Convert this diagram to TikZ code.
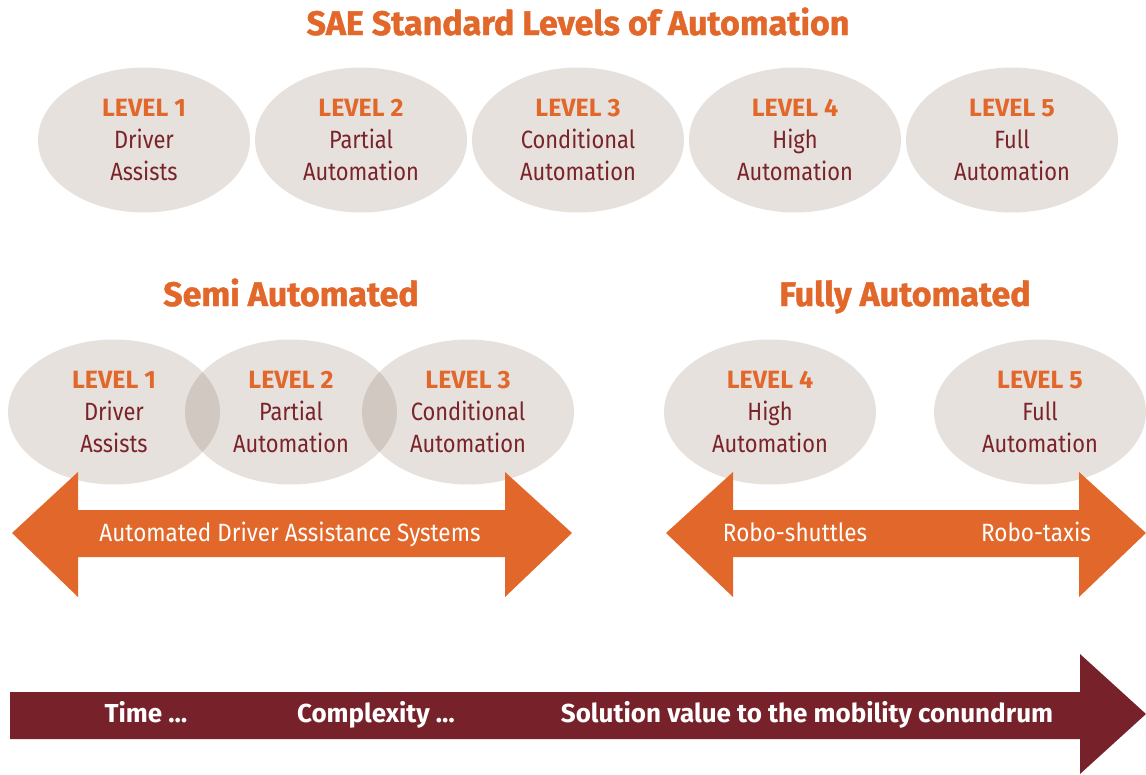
\documentclass[tikz,border=0pt]{standalone}
\usepackage{fontspec}
\setmainfont{Fira Sans}
\newfontfamily\condfont{Fira Sans}[FakeStretch=0.875]
\newfontfamily\widecondfont{Fira Sans}[FakeStretch=0.9]
\newfontfamily\headfont{Fira Sans}[BoldFeatures={FakeBold=1.2}]
\usetikzlibrary{shapes.geometric}
\usetikzlibrary{positioning}
\definecolor{saeorange}{HTML}{E2672A}
\definecolor{saemaroon}{HTML}{77222A}
\definecolor{saetext}{HTML}{7A2328}
\definecolor{saegrey}{RGB}{88,55,28}
\newcommand{\lvltext}[3]{{\color{saeorange}\normalfont\bfseries LEVEL #1}\\#2\\#3}

\begin{document}
\begin{tikzpicture}
	[
	x=1pt, y=-1pt,
	lvl/.style = {ellipse, fill=saegrey, fill opacity=0.15, text opacity=1, minimum width=212pt, minimum height=145pt,
		inner sep=0pt, align=center, text=saetext, font=\condfont\fontsize{25}{32}\selectfont},
	heading/.style = {anchor=base, text=saeorange, font=\headfont\bfseries\fontsize{34}{40}\selectfont},
	arrowtext/.style = {anchor=base, text=white, font=\widecondfont\fontsize{25}{30}\selectfont},
	timetext/.style = {anchor=base, text=white, font=\bfseries\fontsize{26}{30}\selectfont}
	]
	\useasboundingbox (0,0) rectangle (1146,774);

	% title and the five levels
	\node[heading] (title) at (578,35) {SAE Standard Levels of Automation};
	\node[lvl] (top1) at (144,140) {\lvltext{1}{Driver}{Assists}};
	\node[lvl] (top2) at (361,140) {\lvltext{2}{Partial}{Automation}};
	\node[lvl] (top3) at (578,140) {\lvltext{3}{Conditional}{Automation}};
	\node[lvl] (top4) at (795,140) {\lvltext{4}{High}{Automation}};
	\node[lvl] (top5) at (1012,140) {\lvltext{5}{Full}{Automation}};

	% two groups
	\node[heading] (semi) at (291,306) {Semi Automated};
	\node[heading] (fully) at (905,306) {Fully Automated};

	\node[lvl] (semi1) at (114,412) {\lvltext{1}{Driver}{Assists}};
	\node[lvl] (semi2) at (291,412) {\lvltext{2}{Partial}{Automation}};
	\node[lvl] (semi3) at (468,412) {\lvltext{3}{Conditional}{Automation}};
	\node[lvl] (full4) at (770,412) {\lvltext{4}{High}{Automation}};
	\node[lvl] (full5) at (1040,412) {\lvltext{5}{Full}{Automation}};

	% double arrows
	\fill[saeorange] (12,533) -- (78,472) -- (78,510) -- (505,510) -- (505,472) -- (572,533)
		-- (505,597) -- (505,557) -- (78,557) -- (78,597) -- cycle;
	\fill[saeorange] (666,533) -- (733,472) -- (733,510) -- (1079,510) -- (1079,472) -- (1146,533)
		-- (1079,597) -- (1079,557) -- (733,557) -- (733,597) -- cycle;
	\node[arrowtext] (adas) at (290,541) {Automated Driver Assistance Systems};
	\node[arrowtext] (shuttle) at (795,541) {Robo-shuttles};
	\node[arrowtext] (taxi) at (1036,541) {Robo-taxis};

	% time arrow
	\fill[saemaroon] (10,692) -- (1080,692) -- (1080,654) -- (1146,714) -- (1080,774)
		-- (1080,739) -- (10,739) -- cycle;
	\node[timetext] (time) at (146,722) {Time \dots};
	\node[timetext] (complex) at (376,722) {Complexity \dots};
	\node[timetext] (value) at (807,722) {Solution value to the mobility conundrum};
\end{tikzpicture}
\end{document}
